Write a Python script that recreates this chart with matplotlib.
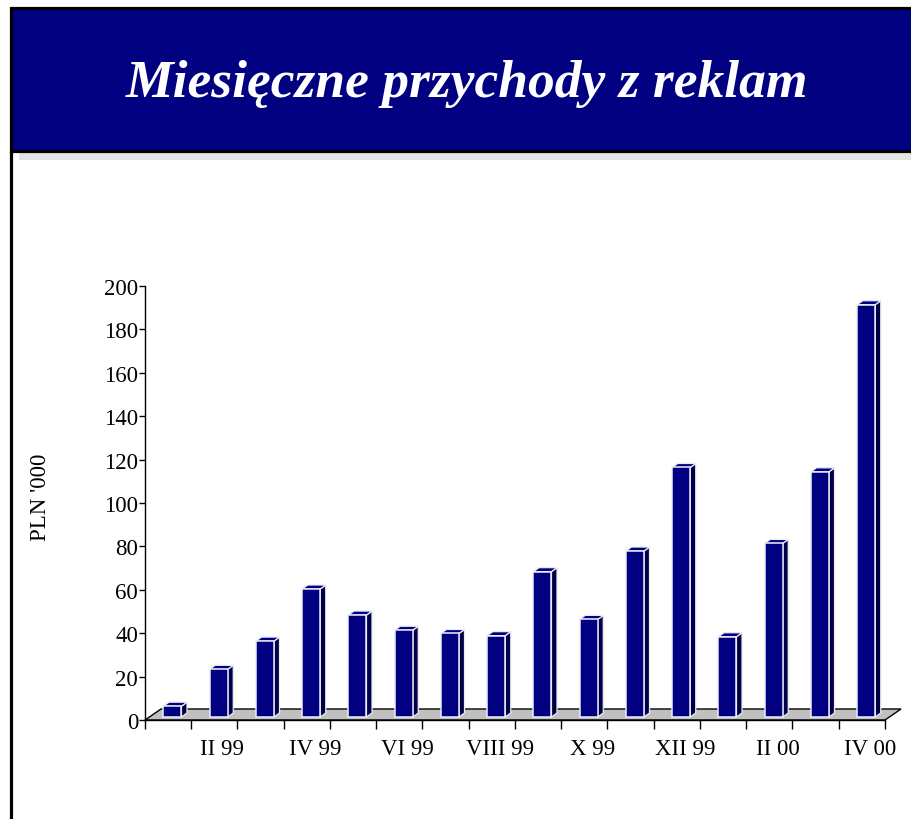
import matplotlib
matplotlib.use('Agg')
import matplotlib.pyplot as plt
from matplotlib.patches import Polygon, Rectangle
import numpy as np

# ---- data ----
months = ['I 99', 'II 99', 'III 99', 'IV 99', 'V 99', 'VI 99', 'VII 99', 'VIII 99',
          'IX 99', 'X 99', 'XI 99', 'XII 99', 'I 00', 'II 00', 'III 00', 'IV 00']
values = [5, 22, 35, 59, 47, 40, 38.5, 37.5, 67, 45, 76.5, 115, 37, 80, 113, 190]
yticks = list(range(0, 201, 20))
title = 'Miesięczne przychody z reklam'
ylabel = "PLN '000"

SERIF = ['Liberation Serif', 'DejaVu Serif']
NAVY = '#000080'

fig = plt.figure(figsize=(9.12, 8.2), dpi=100)
fig.patch.set_facecolor('white')

# ---- decorative frame (pixel coordinates) ----
bg = fig.add_axes([0, 0, 1, 1], zorder=0)
bg.set_xlim(0, 912)
bg.set_ylim(820, 0)
bg.axis('off')
bg.add_patch(Rectangle((19, 153), 900, 8, facecolor='#e4e4e4', edgecolor='none'))
bg.add_patch(Rectangle((11, 9), 910, 143, facecolor=NAVY, edgecolor='black', lw=2.3))
bg.plot([11, 11], [152, 822], color='black', lw=2.3, solid_capstyle='butt')
bg.text(467, 97, title, color='white', fontsize=38.5, family=SERIF,
        weight='bold', style='italic', ha='center', va='baseline')
bg.text(41, 497, ylabel, rotation=90, fontsize=16.5, family=SERIF,
        ha='center', va='center', color='black')

# ---- chart ----
ax = fig.add_axes([145 / 912, 99 / 820, 740 / 912, 434 / 820], zorder=1)
ax.patch.set_alpha(0)
n = len(values)
ax.set_xlim(0, n)
ax.set_ylim(0, 200)

# 3D depth parameters (data units)
FDX, FDY = 0.346, 5.07      # floor depth
BDX, BDY = 0.12, 1.84       # bar depth
BW = 0.39                   # bar front width
pos = 0.27                  # bar front position in floor depth

floor = Polygon([(0, 0), (n, 0), (n + FDX, FDY), (FDX, FDY)], closed=True,
                facecolor='#c0c0c0', edgecolor='black', lw=1.0, clip_on=False, zorder=1)
ax.add_patch(floor)

x0 = np.arange(n) + 0.5 - BW / 2 + pos * FDX
base = pos * FDY
vals = np.array(values, dtype=float)

edge = '#ececf6'
for xi, v in zip(x0, vals):
    side = Polygon([(xi + BW, base), (xi + BW + BDX, base + BDY),
                    (xi + BW + BDX, base + v + BDY), (xi + BW, base + v)],
                   closed=True, facecolor='#000048', edgecolor=edge, lw=0.9,
                   clip_on=False, zorder=3)
    top = Polygon([(xi, base + v), (xi + BW, base + v),
                   (xi + BW + BDX, base + v + BDY), (xi + BDX, base + v + BDY)],
                  closed=True, facecolor=NAVY, edgecolor=edge, lw=0.9,
                  clip_on=False, zorder=3)
    ax.add_patch(side)
    ax.add_patch(top)
ax.bar(x0, vals, width=BW, bottom=base, align='edge', color=NAVY,
       edgecolor=edge, lw=1.1, zorder=4, clip_on=False)

for s in ['top', 'right']:
    ax.spines[s].set_visible(False)
ax.spines['left'].set_linewidth(1.0)
ax.spines['bottom'].set_linewidth(1.0)
ax.spines['left'].set_zorder(5)

ax.set_yticks(yticks)
ax.set_yticklabels([str(t) for t in yticks], family=SERIF, fontsize=16.5)
ax.tick_params(axis='y', direction='out', length=4, width=1, pad=1)

ax.set_xticks(np.arange(0, n + 1))
ax.set_xticklabels([''] * (n + 1))
ax.tick_params(axis='x', which='major', direction='out', length=6.5, width=1)
lab_idx = list(range(1, n, 2))
ax.set_xticks([i + 0.5 + FDX / 2 for i in lab_idx], minor=True)
ax.set_xticklabels([months[i] for i in lab_idx], minor=True, family=SERIF, fontsize=16.5)
ax.tick_params(axis='x', which='minor', length=0, pad=13)

fig.savefig('out.png', dpi=100)
